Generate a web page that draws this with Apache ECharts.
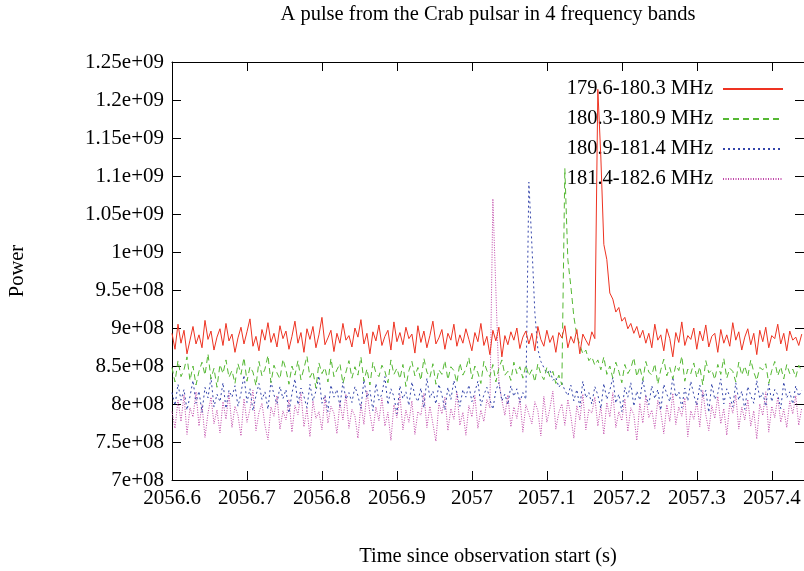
<!DOCTYPE html>
<html>
<head>
<meta charset="utf-8">
<script src="https://cdn.jsdelivr.net/npm/echarts@6/dist/echarts.min.js"></script>
<style>
html,body{margin:0;padding:0;background:#fff;}
#chart{width:804px;height:571px;}
</style>
</head>
<body>
<div id="chart"></div>
<script>
// Sample times: regular sampling grid
const tStart = 2056.6;
const tStep = 0.004;

// Band labels
const bandNames = ['179.6-180.3 MHz', '180.3-180.9 MHz', '180.9-181.4 MHz', '181.4-182.6 MHz'];

// Power values in units of 1e6
const band1 = [
893,872,905,880,897,866,884,902,879,891,874,910,885,896,871,888,899,877,906,883,
892,868,887,901,879,895,912,876,889,870,898,884,907,881,893,875,903,886,896,872,
889,909,880,894,868,899,885,902,874,891,914,878,887,897,869,893,880,906,884,890,
875,900,888,911,879,893,866,895,883,904,877,889,897,871,908,882,894,878,901,886,
892,867,903,881,896,874,890,909,879,887,898,872,893,884,905,876,891,880,899,885,
870,894,882,906,877,889,865,897,883,901,862,890,878,895,884,900,873,888,896,879,
893,870,902,885,876,897,881,890,868,894,887,903,874,889,880,898,866,892,884,877,895,886,
1214,1125,1010,990,946,938,921,927,909,914,899,906,893,902,887,
897,880,893,874,905,884,891,870,899,886,862,894,881,908,877,890,885,900,872,896,
883,904,875,889,893,868,898,880,891,876,907,884,895,871,888,899,878,893,865,897,
882,901,874,890,886,905,879,893,870,896,884,888,877,892
];
const band2 = [
848,829,857,836,845,862,831,850,825,843,855,838,866,833,847,822,852,840,858,835,
844,827,853,839,861,830,849,842,824,856,837,846,864,828,851,841,833,859,845,826,
850,838,857,832,847,863,835,843,821,854,840,848,829,860,836,845,853,827,842,857,
834,849,838,862,830,846,825,855,841,836,851,843,828,858,839,847,833,852,823,844,
856,837,848,831,860,842,835,853,826,845,839,857,832,849,844,828,854,838,846,861,
833,850,841,827,856,844,836,852,829,847,858,838,843,831,855,840,849,834,851,837,
845,829,853,839,832,848,836,843,827,838,825,
1110,990,955,915,890,878,866,871,857,862,851,
858,845,862,839,850,834,855,843,828,852,840,847,861,836,849,831,856,842,838,853,
826,845,859,837,848,833,851,844,863,830,846,840,854,835,849,825,857,841,845,832,
852,839,860,834,847,843,829,855,838,850,836,858,842,831,848,845,853,827,844,856,
837,849,833,852,840,846,835,851,843
];
const band3 = [
815,798,826,805,819,792,810,831,801,817,789,822,808,835,796,813,803,828,794,818,
809,824,797,814,838,802,820,791,811,827,806,816,793,830,812,800,823,807,819,788,
814,833,799,821,810,795,826,804,817,837,801,812,790,825,809,819,797,829,806,815,
802,823,811,794,832,808,818,791,827,805,813,836,799,820,810,787,824,807,816,798,
829,811,803,821,795,834,808,817,800,826,812,792,822,806,831,814,797,819,809,825,
803,816,830,798,812,822,806,793,818,828,804,813,799,824,810,820,802,815,806,
1092,1010,920,872,856,848,840,845,831,835,822,828,818,
811,825,804,819,796,830,808,815,800,823,812,794,827,806,818,835,801,813,790,822,
809,828,797,817,805,832,811,799,824,807,819,792,826,813,803,836,809,816,795,821,
804,830,812,798,825,808,818,789,827,806,814,833,800,820,810,796,828,805,817,793,
823,811,801,831,807,815,797,826,803,819,812,794,829,808,816,800,824,810,818
];
const band4 = [
790,768,805,777,812,760,795,783,816,771,799,756,788,809,774,792,762,803,780,814,
769,797,785,758,807,776,793,818,765,789,801,772,753,796,784,811,767,791,779,806,
763,798,786,815,770,794,757,804,781,790,766,810,775,797,788,761,802,779,813,768,
793,784,755,800,773,817,787,764,796,778,808,771,789,752,799,782,812,766,792,776,
804,760,790,785,814,769,797,774,751,801,787,809,765,794,780,816,772,789,759,798,
783,811,768,792,777,806,795,
1070,950,830,805,
785,812,770,796,781,808,763,799,787,774,803,791,758,810,776,794,817,767,789,800,
772,806,784,755,798,779,813,766,793,788,809,771,797,760,802,783,815,769,790,778,
807,764,795,786,752,801,775,811,782,792,768,805,789,761,799,777,814,773,796,784,
808,757,791,780,803,770,818,786,765,798,781,810,774,794,759,802,788,812,767,796,
779,806,771,791,754,800,785,816,763,797,782,809,776,793,769,804,787,811,772,795
];

// Axis ticks
const yMin = 700, yMax = 1250, yStep = 50;   // in 1e6
const xMin = 2056.6, xMax = 2057.443, xStep = 0.1;

const bands = [band1, band2, band3, band4];
const colors = ['#ee3322', '#55b833', '#3344aa', '#c044a8'];
const dashes = ['solid', [6, 4], [2, 3], [1, 1.5]];

function pairs(arr) {
  return arr.map((v, i) => [+(tStart + i * tStep).toFixed(4), v]);
}

function fmtY(v) {
  const x = v * 1e6;
  const e = Math.floor(Math.log10(x) + 1e-9);
  let m = x / Math.pow(10, e);
  m = parseFloat(m.toFixed(2));
  return m + 'e+' + (e < 10 ? '0' + e : e);
}
function fmtX(v) {
  return String(parseFloat(v.toFixed(1)));
}

const FONT = 'Liberation Serif';
const chart = echarts.init(document.getElementById('chart'), null, {renderer: 'canvas'});

const axisCommon = {
  type: 'value',
  splitLine: {show: false},
  axisLine: {show: true, onZero: false, lineStyle: {color: '#000', width: 1}},
  axisTick: {show: true, inside: true, length: 9, lineStyle: {color: '#000'}},
};

chart.setOption({
  animation: false,
  backgroundColor: '#fff',
  grid: {left: 172, top: 62, right: 0, bottom: 91, containLabel: false},
  xAxis: [
    Object.assign({}, axisCommon, {
      position: 'bottom', min: xMin, max: xMax, interval: xStep,
      axisLabel: {show: true, formatter: fmtX, fontFamily: FONT, fontSize: 21, color: '#000', margin: 8, showMaxLabel: false}
    }),
    Object.assign({}, axisCommon, {
      position: 'top', min: xMin, max: xMax, interval: xStep,
      axisLabel: {show: false}
    })
  ],
  yAxis: [
    Object.assign({}, axisCommon, {
      position: 'left', min: yMin, max: yMax, interval: yStep,
      axisLabel: {show: true, formatter: fmtY, fontFamily: FONT, fontSize: 21, color: '#000', margin: 8}
    }),
    Object.assign({}, axisCommon, {
      position: 'right', min: yMin, max: yMax, interval: yStep,
      axisLabel: {show: false}
    })
  ],
  legend: {
    orient: 'vertical',
    align: 'right',
    right: 15,
    top: 73,
    itemWidth: 60,
    itemHeight: 14,
    itemGap: 8,
    itemStyle: {opacity: 0},
    textStyle: {fontFamily: FONT, fontSize: 20.5, color: '#000', lineHeight: 22, padding: [0, 5, 0, 0]},
    data: bandNames
  },
  series: bands.map((b, k) => ({
    name: bandNames[k],
    type: 'line',
    data: pairs(b),
    showSymbol: false,
    symbol: 'none',
    xAxisIndex: 0,
    yAxisIndex: 0,
    lineStyle: {color: colors[k], width: 1, type: dashes[k]},
    itemStyle: {color: colors[k]},
    z: 10 - k,
    clip: true
  })),
  graphic: [
    {type: 'text', x: 488, y: 15, style: {text: 'A pulse from the Crab pulsar in 4 frequency bands', font: '20.5px "Liberation Serif"', fill: '#000', textAlign: 'center', textVerticalAlign: 'middle'}},
    {type: 'text', x: 18, y: 271, rotation: Math.PI / 2, style: {text: 'Power', font: '20.5px "Liberation Serif"', fill: '#000', textAlign: 'center', textVerticalAlign: 'middle'}},
    {type: 'text', x: 488, y: 557, style: {text: 'Time since observation start (s)', font: '20.5px "Liberation Serif"', fill: '#000', textAlign: 'center', textVerticalAlign: 'middle'}}
  ]
});
</script>
</body>
</html>
